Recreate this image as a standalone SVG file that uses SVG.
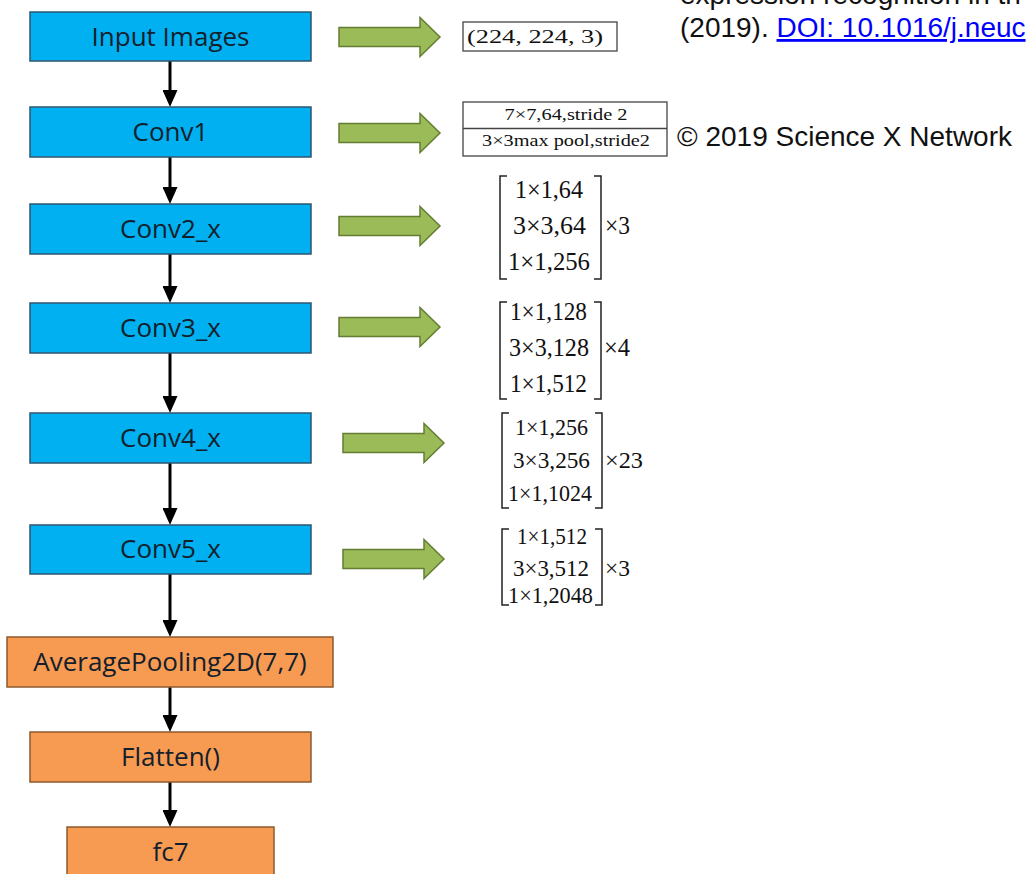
<svg xmlns="http://www.w3.org/2000/svg" xmlns:xlink="http://www.w3.org/1999/xlink" width="1032" height="874" viewBox="0 0 1032 874">
<style>
.blue{fill:#00B0F0;stroke:#2E5670;stroke-width:1.5}
.orange{fill:#F79A52;stroke:#8C5A2E;stroke-width:1.5}
.lbl{font-family:"Open Sans","Liberation Sans",sans-serif;font-size:26px;fill:#13202C;text-anchor:middle}
.flow{stroke:#000;stroke-width:3;fill:none}
.garrow{fill:#9BBB59;stroke:#637E33;stroke-width:1.5}
.spec{fill:#fff;stroke:#444;stroke-width:1.3}
.tm{font-family:"Liberation Serif","Times New Roman",serif;fill:#111;text-anchor:middle}
.tm.rep{text-anchor:start}
.m1{font-size:25px}
.m3{font-size:23px}
.br{fill:none;stroke:#222;stroke-width:1.5}
.cap{font-family:"Liberation Sans",Arial,sans-serif;font-size:28px;fill:#111}
</style>
<defs>
<marker id="ah" markerUnits="userSpaceOnUse" markerWidth="17" markerHeight="15" viewBox="0 0 17 15" refX="5" refY="7.5" orient="auto">
<path d="M0,0 L17,7.5 L0,15 Z" fill="#000"/>
</marker>
<path id="ga" d="M0,-9.5 H81 V-19.5 L101,0 L81,19.5 V9.5 H0 Z"/>
</defs>
<rect width="1032" height="874" fill="#fff"/>

<g id="connectors">
<line class="flow" x1="170" y1="61" x2="170" y2="95" marker-end="url(#ah)"/>
<line class="flow" x1="170" y1="157" x2="170" y2="192" marker-end="url(#ah)"/>
<line class="flow" x1="170" y1="254" x2="170" y2="291" marker-end="url(#ah)"/>
<line class="flow" x1="170" y1="353" x2="170" y2="401" marker-end="url(#ah)"/>
<line class="flow" x1="170" y1="463" x2="170" y2="513" marker-end="url(#ah)"/>
<line class="flow" x1="170" y1="574" x2="170" y2="625" marker-end="url(#ah)"/>
<line class="flow" x1="170" y1="687" x2="170" y2="720" marker-end="url(#ah)"/>
<line class="flow" x1="170" y1="782" x2="170" y2="815" marker-end="url(#ah)"/>
<use href="#ga" class="garrow" x="339" y="37"/>
<use href="#ga" class="garrow" x="339" y="133"/>
<use href="#ga" class="garrow" x="339" y="226"/>
<use href="#ga" class="garrow" x="339" y="327"/>
<use href="#ga" class="garrow" x="343" y="443"/>
<use href="#ga" class="garrow" x="343" y="559"/>
</g>

<g id="node-input">
<rect class="blue" x="30" y="12" width="281" height="49"/>
<text class="lbl" x="170.5" y="46">Input Images</text>
</g>
<g id="node-conv1">
<rect class="blue" x="30" y="107" width="281" height="50"/>
<text class="lbl" x="170.5" y="141">Conv1</text>
</g>
<g id="node-conv2">
<rect class="blue" x="30" y="204" width="281" height="50"/>
<text class="lbl" x="170.5" y="238">Conv2_x</text>
</g>
<g id="node-conv3">
<rect class="blue" x="30" y="303" width="281" height="50"/>
<text class="lbl" x="170.5" y="337">Conv3_x</text>
</g>
<g id="node-conv4">
<rect class="blue" x="30" y="413" width="281" height="50"/>
<text class="lbl" x="170.5" y="447">Conv4_x</text>
</g>
<g id="node-conv5">
<rect class="blue" x="30" y="525" width="281" height="49"/>
<text class="lbl" x="170.5" y="558">Conv5_x</text>
</g>
<g id="node-avgpool">
<rect class="orange" x="7" y="637" width="326" height="50"/>
<text class="lbl" x="170" y="671">AveragePooling2D(7,7)</text>
</g>
<g id="node-flatten">
<rect class="orange" x="30" y="732" width="281" height="50"/>
<text class="lbl" x="170.5" y="766">Flatten()</text>
</g>
<g id="node-fc7">
<rect class="orange" x="67" y="827" width="207" height="60"/>
<text class="lbl" x="170.5" y="861">fc7</text>
</g>

<g id="spec-input">
<rect class="spec" x="463" y="22" width="154" height="29"/>
<text class="tm" x="535" y="43" font-size="19" textLength="136" lengthAdjust="spacingAndGlyphs">(224, 224, 3)</text>
</g>
<g id="spec-conv1">
<rect class="spec" x="463" y="102" width="204" height="54"/>
<line class="spec" x1="463" y1="128.5" x2="667" y2="128.5"/>
<text class="tm" x="566" y="120" font-size="17" textLength="123" lengthAdjust="spacingAndGlyphs">7×7,64,stride 2</text>
<text class="tm" x="566" y="146" font-size="17" textLength="168" lengthAdjust="spacingAndGlyphs">3×3max pool,stride2</text>
</g>
<g id="spec-conv2">
<path class="br" d="M507,176 H500 V279 H507 M594,176 H601 V279 H594"/>
<text class="tm m1" x="549" y="198" textLength="68" lengthAdjust="spacingAndGlyphs">1×1,64</text>
<text class="tm m1" x="549.5" y="234" textLength="73" lengthAdjust="spacingAndGlyphs">3×3,64</text>
<text class="tm m1" x="549" y="270" textLength="82" lengthAdjust="spacingAndGlyphs">1×1,256</text>
<text class="tm rep m1" x="605" y="234" textLength="25" lengthAdjust="spacingAndGlyphs">×3</text>
</g>
<g id="spec-conv3">
<path class="br" d="M507,302 H500 V399 H507 M594,302 H601 V399 H594"/>
<text class="tm m1" x="548.5" y="320" textLength="77" lengthAdjust="spacingAndGlyphs">1×1,128</text>
<text class="tm m1" x="549" y="356" textLength="80" lengthAdjust="spacingAndGlyphs">3×3,128</text>
<text class="tm m1" x="548.5" y="392" textLength="77" lengthAdjust="spacingAndGlyphs">1×1,512</text>
<text class="tm rep m1" x="604" y="356" textLength="26" lengthAdjust="spacingAndGlyphs">×4</text>
</g>
<g id="spec-conv4">
<path class="br" d="M509,413 H502 V508 H509 M595,413 H602 V508 H595"/>
<text class="tm m3" x="551.5" y="435" textLength="73" lengthAdjust="spacingAndGlyphs">1×1,256</text>
<text class="tm m3" x="551.5" y="468" textLength="77" lengthAdjust="spacingAndGlyphs">3×3,256</text>
<text class="tm m3" x="550" y="501" textLength="84" lengthAdjust="spacingAndGlyphs">1×1,1024</text>
<text class="tm rep m3" x="605" y="468" textLength="38" lengthAdjust="spacingAndGlyphs">×23</text>
</g>
<g id="spec-conv5">
<path class="br" d="M509,529 H502 V605 H509 M595,529 H602 V605 H595"/>
<text class="tm m3" x="552" y="544" textLength="70" lengthAdjust="spacingAndGlyphs">1×1,512</text>
<text class="tm m3" x="551" y="576" textLength="76" lengthAdjust="spacingAndGlyphs">3×3,512</text>
<text class="tm m3" x="550.5" y="603" textLength="85" lengthAdjust="spacingAndGlyphs">1×1,2048</text>
<text class="tm rep m3" x="605" y="576" textLength="25" lengthAdjust="spacingAndGlyphs">×3</text>
</g>

<g id="caption">
<text class="cap" x="680" y="4">expression recognition in th</text>
<text class="cap" x="680" y="37">(2019). <tspan fill="#0000FF" text-decoration="underline">DOI: 10.1016/j.neuc</tspan></text>
<text class="cap" x="677" y="146">© 2019 Science X Network</text>
</g>
</svg>
